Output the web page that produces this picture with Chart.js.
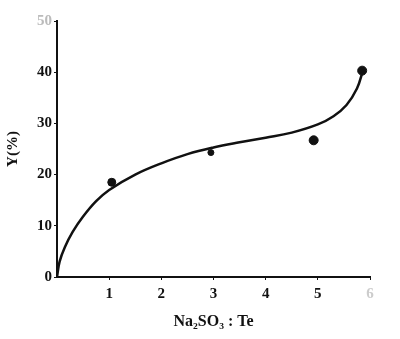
<!DOCTYPE html>
<html>
<head>
<meta charset="utf-8">
<script src="https://cdn.jsdelivr.net/npm/chart.js@4/dist/chart.umd.min.js"></script>
<style>
  html, body { margin: 0; padding: 0; background: #fff; }
  #wrap { width: 400px; height: 339px; }
</style>
</head>
<body>
<div id="wrap"><canvas id="myChart" width="400" height="339"></canvas></div>
<script>
// measured points (Na2SO3 : Te ratio vs yield %)
const ratioPoints = [1.05, 2.95, 4.92, 5.85];
const yieldPoints = [18.5, 24.3, 26.7, 40.3];

// fitted curve
const curveX = [0, 0.05, 0.15, 0.3, 0.5, 0.75, 1, 1.5, 2, 2.5, 3, 3.5, 4, 4.5, 5, 5.3, 5.55, 5.75, 5.87];
const curveY = [0, 3, 5.8, 8.8, 11.8, 14.8, 17, 20, 22.2, 24, 25.3, 26.3, 27.2, 28.2, 29.8, 31.4, 33.6, 36.8, 40.5];

const xTicks = [1, 2, 3, 4, 5, 6];
const yTicks = [0, 10, 20, 30, 40, 50];

const serif = "'Liberation Serif', 'DejaVu Serif', serif";

function toXY(xs, ys) {
    return xs.map((x, i) => ({ x: x, y: ys[i] }));
}

const ctx = document.getElementById('myChart').getContext('2d');
const myChart = new Chart(ctx, {
    type: 'line',
    data: {
        datasets: [{
            label: 'curve',
            data: toXY(curveX, curveY),
            borderColor: '#111',
            borderWidth: 2.5,
            pointRadius: 0,
            tension: 0.4,
            fill: false
        }, {
            label: 'points',
            type: 'scatter',
            data: toXY(ratioPoints, yieldPoints),
            backgroundColor: '#111',
            borderColor: '#111',
            pointRadius: [4, 3, 4.5, 4.5]
        }]
    },
    options: {
        responsive: false,
        animation: false,
        layout: { padding: { top: 21, right: 30, left: 0, bottom: 8 } },
        plugins: {
            legend: { display: false },
            tooltip: { enabled: false }
        },
        scales: {
            x: {
                type: 'linear',
                min: 0,
                max: 6,
                afterFit: scale => { scale.height = 54; },
                afterBuildTicks: scale => { scale.ticks = xTicks.map(v => ({ value: v })); },
                border: { display: true, color: '#111', width: 2 },
                grid: { drawOnChartArea: false, tickLength: 3, color: '#111' },
                ticks: {
                    color: ctx => ctx.tick.value === 6 ? '#ccc' : '#111',
                    font: { family: serif, size: 15, weight: 'bold' },
                    padding: 5
                },
                title: {
                    display: true,
                    text: 'Na₂SO₃ : Te',
                    color: '#111',
                    font: { family: serif, size: 16, weight: 'bold' },
                    padding: { top: 2, bottom: 0 }
                }
            },
            y: {
                min: 0,
                max: 50,
                afterFit: scale => { scale.width = 57; },
                afterBuildTicks: scale => { scale.ticks = yTicks.map(v => ({ value: v })); },
                border: { display: true, color: '#111', width: 2 },
                grid: { drawOnChartArea: false, tickLength: 3, color: '#111' },
                ticks: {
                    color: ctx => ctx.tick.value === 50 ? '#bbb' : '#111',
                    font: { family: serif, size: 15, weight: 'bold' },
                    padding: 2
                },
                title: {
                    display: true,
                    text: 'Y(%)',
                    color: '#111',
                    font: { family: serif, size: 15, weight: 'bold' },
                    padding: { bottom: 2 }
                }
            }
        }
    }
});
</script>
</body>
</html>
